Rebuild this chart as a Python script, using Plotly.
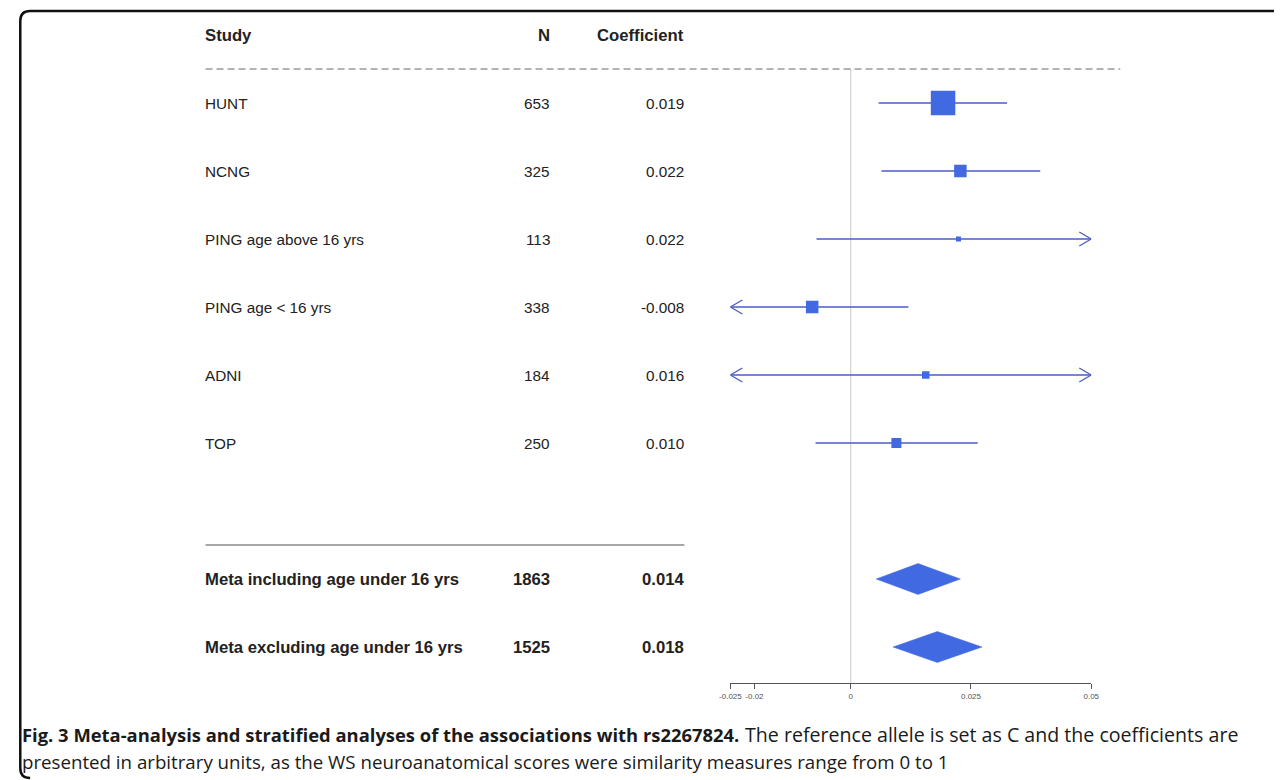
import plotly.graph_objects as go

# ---------------- data ----------------
studies = ["HUNT", "NCNG", "PING age above 16 yrs", "PING age < 16 yrs", "ADNI", "TOP"]
n_obs = [653, 325, 113, 338, 184, 250]
coef_text = ["0.019", "0.022", "0.022", "-0.008", "0.016", "0.010"]
estimate = [0.0192, 0.0228, 0.0224, -0.0080, 0.0156, 0.0095]
ci_low = [0.0058, 0.0064, -0.0071, -0.0280, -0.0300, -0.0073]
ci_high = [0.0325, 0.0394, 0.0519, 0.0120, 0.0610, 0.0264]
weight_px = [24.5, 12.5, 5, 12.5, 7.5, 10]  # square side (style)

meta_labels = ["Meta including age under 16 yrs", "Meta excluding age under 16 yrs"]
meta_n = [1863, 1525]
meta_text = ["0.014", "0.018"]
meta_est = [0.0140, 0.0180]
meta_low = [0.0053, 0.0088]
meta_high = [0.0228, 0.0273]

tick_vals = [-0.025, -0.02, 0, 0.025, 0.05]
tick_text = ["-0.025", "-0.02", "0", "0.025", "0.05"]

caption_bold = "Fig. 3 Meta-analysis and stratified analyses of the associations with rs2267824."
caption_rest1 = "The reference allele is set as C and the coefficients are"
caption_line2 = ("presented in arbitrary units, as the WS neuroanatomical scores were similarity"
                 " measures range from 0 to 1")

# ---------------- layout helpers ----------------
OFF = 8                      # page body margin
W, H = 1282, 780 - OFF
ROW0, ROWH = 35 - OFF, 68    # figure pixel y of row 0 and row spacing
XMIN, XMAX = -0.025, 0.05
SX_A, SX_B = 10.5, 0.9855    # observed page -> picture horizontal mapping


def pxx(x):
    fx = (x - SX_A) / SX_B - OFF
    return max(fx, 1.3) / W


def pxy(y):
    return 1 - (y - OFF) / H


LINE_COL = "#4b5cc4"
BOX_COL = "#4169E1"
TXT_COL = "#222222"
FONT = "Liberation Sans, Arial, sans-serif"
REG, BOLD = 15.3, 16.7

fig = go.Figure()

study_rows = [1 + i for i in range(len(studies))]
meta_rows = [8, 9]

arrow_dx = 12 / ((1091 - 730) / (XMAX - XMIN))
arrow_dy = 7 / ROWH

for i, r in enumerate(study_rows):
    lo = max(ci_low[i], XMIN)
    hi = min(ci_high[i], XMAX)
    fig.add_trace(go.Scatter(x=[lo, hi], y=[r, r], mode="lines",
                             line=dict(color=LINE_COL, width=1.3),
                             hoverinfo="skip", showlegend=False))
    if ci_low[i] < XMIN:
        fig.add_trace(go.Scatter(x=[XMIN + arrow_dx, XMIN, XMIN + arrow_dx],
                                 y=[r - arrow_dy, r, r + arrow_dy], mode="lines",
                                 line=dict(color=LINE_COL, width=1.3),
                                 hoverinfo="skip", showlegend=False))
    if ci_high[i] > XMAX:
        fig.add_trace(go.Scatter(x=[XMAX - arrow_dx, XMAX, XMAX - arrow_dx],
                                 y=[r - arrow_dy, r, r + arrow_dy], mode="lines",
                                 line=dict(color=LINE_COL, width=1.3),
                                 hoverinfo="skip", showlegend=False))

fig.add_trace(go.Scatter(x=estimate, y=study_rows, mode="markers",
                         marker=dict(symbol="square", size=weight_px, color=BOX_COL,
                                     opacity=1, line=dict(width=0)),
                         hovertext=studies, showlegend=False))

diam_h = 15.5 / ROWH
for j, r in enumerate(meta_rows):
    fig.add_trace(go.Scatter(
        x=[meta_low[j], meta_est[j], meta_high[j], meta_est[j], meta_low[j]],
        y=[r, r - diam_h, r, r + diam_h, r],
        mode="lines", fill="toself", fillcolor=BOX_COL,
        line=dict(color=BOX_COL, width=0.5), hoverinfo="skip", showlegend=False))

# zero reference line
fig.add_shape(type="line", xref="x", yref="paper", x0=0, x1=0,
              y0=pxy(69), y1=pxy(683), line=dict(color="#d4d4d4", width=1.3),
              layer="below")
# header dashed line
fig.add_shape(type="line", xref="paper", yref="y", x0=pxx(205), x1=pxx(1120),
              y0=0.5, y1=0.5, line=dict(color="#9a9a9a", width=1.5, dash="7px,4px"))
# summary separator
fig.add_shape(type="line", xref="paper", yref="y", x0=pxx(205), x1=pxx(684),
              y0=7.5, y1=7.5, line=dict(color="#8a8a8a", width=1.5))


def add_text(x, row, txt, anchor, bold=False):
    fig.add_annotation(xref="paper", yref="y", x=pxx(x), y=row,
                       text=f"<b>{txt}</b>" if bold else txt,
                       showarrow=False, xanchor=anchor, yanchor="middle",
                       xshift=-3 if anchor == "left" else 2,
                       font=dict(family=FONT, size=BOLD if bold else REG, color=TXT_COL))


add_text(205, 0, "Study", "left", True)
add_text(550, 0, "N", "right", True)
add_text(684, 0, "Coefficient", "right", True)
for i, r in enumerate(study_rows):
    add_text(205, r, studies[i], "left")
    add_text(550, r, str(n_obs[i]), "right")
    add_text(684, r, coef_text[i], "right")
for j, r in enumerate(meta_rows):
    add_text(205, r, meta_labels[j], "left", True)
    add_text(550, r, str(meta_n[j]), "right", True)
    add_text(684, r, meta_text[j], "right", True)

# caption
CAP_FONT = "Open Sans, sans-serif"
fig.add_annotation(xref="paper", yref="paper", x=pxx(9), y=pxy(734),
                   text=f"<b>{caption_bold}</b>", showarrow=False,
                   xanchor="left", yanchor="middle",
                   font=dict(family=CAP_FONT, size=18.4, color="#1a1a1a"))
fig.add_annotation(xref="paper", yref="paper", x=pxx(1240), y=pxy(734),
                   text=caption_rest1, showarrow=False,
                   xanchor="right", yanchor="middle",
                   font=dict(family=CAP_FONT, size=19.6, color="#1a1a1a"))
fig.add_annotation(xref="paper", yref="paper", x=pxx(9), y=pxy(761),
                   text=caption_line2, showarrow=False,
                   xanchor="left", yanchor="middle",
                   font=dict(family=CAP_FONT, size=18.7, color="#1a1a1a"))

# frame
frame = (f"M {pxx(1300)} {pxy(11)} L {pxx(10) + 10 / W} {pxy(11)} "
         f"Q {pxx(10)} {pxy(11)} {pxx(10)} {pxy(21)} "
         f"L {pxx(10)} {pxy(768)} Q {pxx(10)} {pxy(778)} {pxx(10) + 10 / W} {pxy(778)}")
fig.add_shape(type="path", xref="paper", yref="paper", path=frame,
              line=dict(color="#111111", width=2.5))

fig.update_layout(
    width=W, height=H, margin=dict(l=0, r=0, t=0, b=0),
    paper_bgcolor="white", plot_bgcolor="white",
    xaxis=dict(domain=[pxx(730), pxx(1091)], range=[XMIN, XMAX],
               anchor="free", position=pxy(683),
               showline=True, linecolor="#555555", linewidth=1.3,
               ticks="outside", ticklen=5, tickwidth=1.3, tickcolor="#555555",
               tickvals=tick_vals, ticktext=tick_text,
               tickfont=dict(family=FONT, size=8, color="#555555"),
               showgrid=False, zeroline=False, fixedrange=True),
    yaxis=dict(domain=[0, 1], range=[(H - ROW0) / ROWH, -ROW0 / ROWH],
               visible=False, showgrid=False, zeroline=False, fixedrange=True),
)

fig.write_html("out.html")
